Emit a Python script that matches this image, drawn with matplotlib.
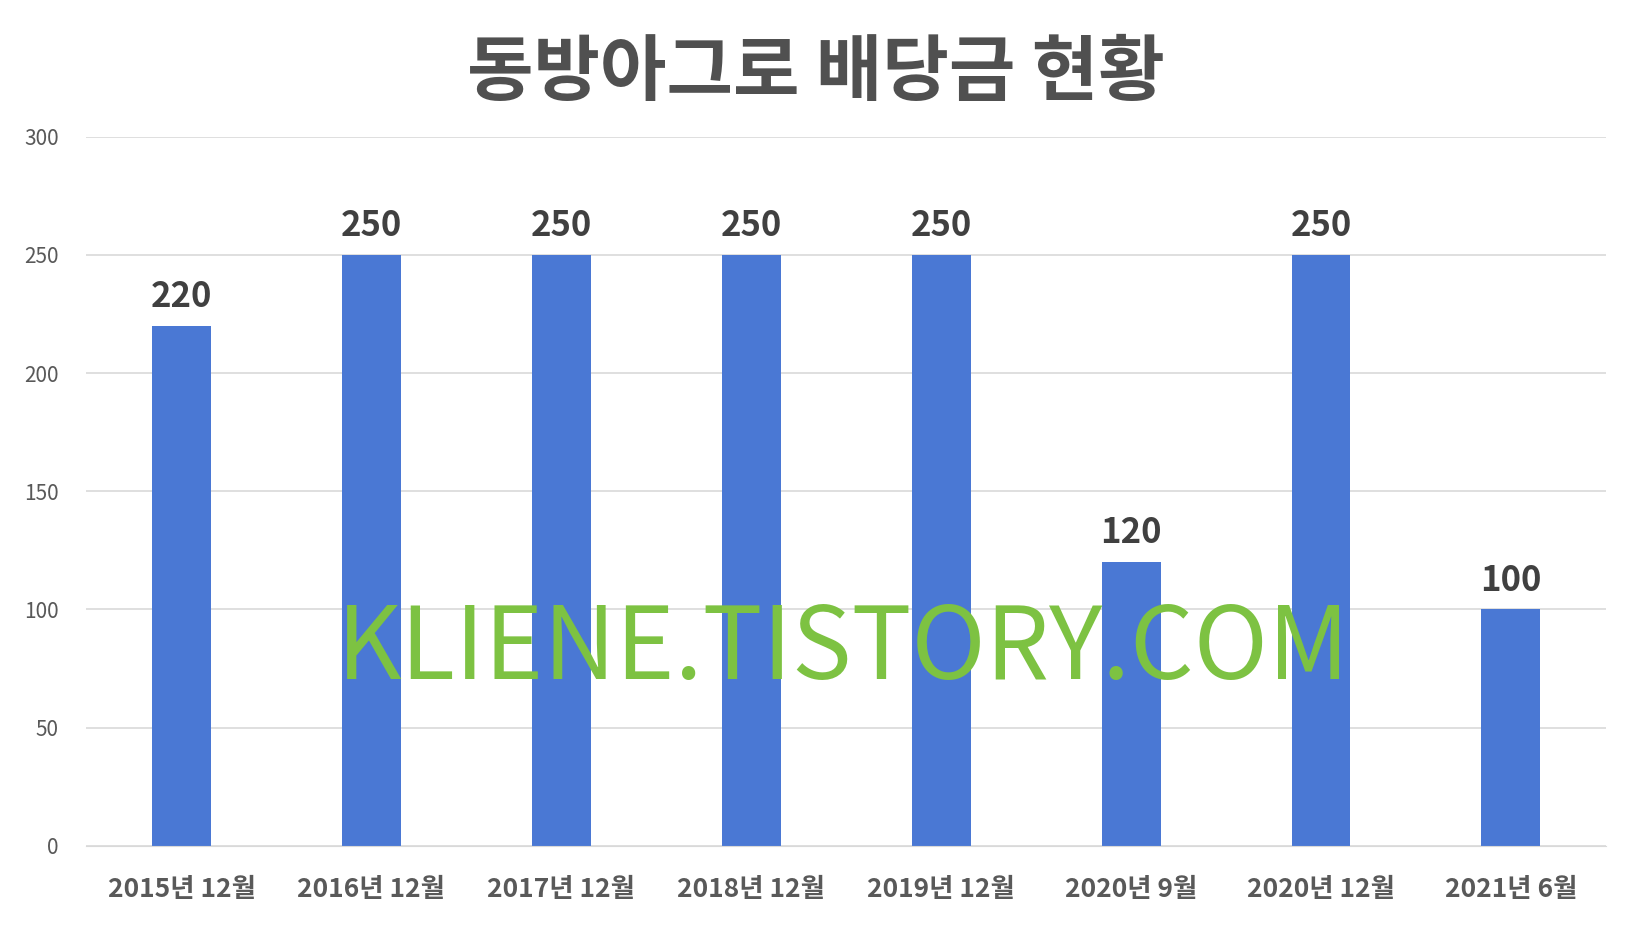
import matplotlib
matplotlib.use("Agg")
import matplotlib.pyplot as plt

categories = ["2015년 12월", "2016년 12월", "2017년 12월", "2018년 12월", "2019년 12월", "2020년 9월", "2020년 12월", "2021년 6월"]
values = [220, 250, 250, 250, 250, 120, 250, 100]
yticks = [0, 50, 100, 150, 200, 250, 300]

plt.rcParams['font.family'] = ['Noto Sans CJK KR', 'DejaVu Sans']
fig = plt.figure(figsize=(16.32, 9.43), dpi=100)
ax = fig.add_axes([0.053, 0.103, 0.931, 0.752])
x = range(len(categories))
ax.bar(x, values, width=0.31, color="#4A78D4", zorder=2)
for xi, v in zip(x, values):
    ax.text(xi, v + 5, str(v), ha="center", va="bottom", fontsize=25, fontweight="bold", color="#404040")
ax.set_xlim(-0.5, len(categories) - 0.5)
ax.set_ylim(0, 300)
ax.set_yticks(yticks)
ax.set_xticks(list(x))
ax.set_xticklabels(categories, fontsize=19, fontweight="bold", color="#595959")
ax.tick_params(axis="y", labelsize=15, labelcolor="#595959", length=0, pad=20)
ax.tick_params(axis="x", length=0, pad=22)
ax.grid(axis="y", color="#D9D9D9", linewidth=1.2, zorder=0)
for s in ax.spines.values():
    s.set_visible(False)
ax.spines["bottom"].set_visible(True)
ax.spines["bottom"].set_color("#D9D9D9")
fig.text(0.5, 0.922, "동방아그로 배당금 현황", ha="center", va="center", fontsize=52, fontweight="bold", color="#505050")
fig.text(0.517, 0.31, "KLIENE.TISTORY.COM", ha="center", va="center", fontsize=72, color="#7DC242", zorder=5)
fig.savefig("out.png", dpi=100)
